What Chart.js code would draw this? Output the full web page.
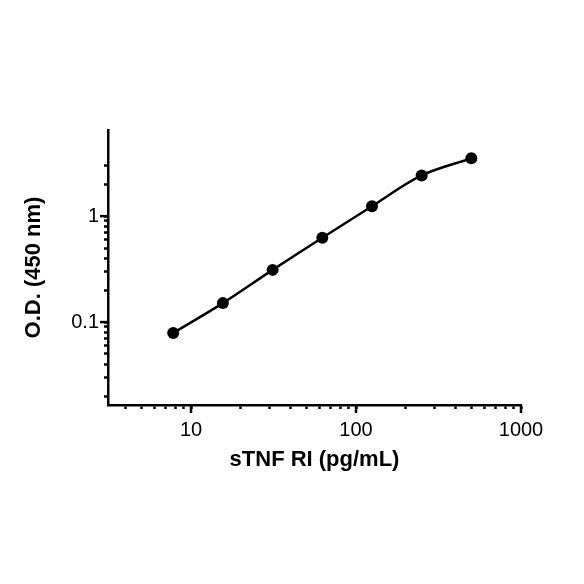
<!DOCTYPE html>
<html>
<head>
<meta charset="utf-8">
<script src="https://cdn.jsdelivr.net/npm/chart.js@4"></script>
<style>
  html, body { margin: 0; padding: 0; background: #fff; }
</style>
</head>
<body>
<canvas id="odChart" width="584" height="584"></canvas>
<script>
// standard curve
var concentration = [7.8, 15.6, 31.25, 62.5, 125, 250, 500];
var odValue = [0.079, 0.151, 0.311, 0.625, 1.24, 2.42, 3.51];

// axis ticks
var xLabelTicks = [10, 100, 1000];
var xMinorTicks = [4, 5, 6, 7, 8, 9, 20, 30, 40, 50, 60, 70, 80, 90, 200, 300, 400, 500, 600, 700, 800, 900];
var yLabelTicks = [0.1, 1];
var yMinorTicks = [0.02, 0.03, 0.04, 0.05, 0.06, 0.07, 0.08, 0.09, 0.2, 0.3, 0.4, 0.5, 0.6, 0.7, 0.8, 0.9, 2, 3];

var FONT = "'Liberation Sans', Arial, sans-serif";

function tickList(a, b) {
  return a.concat(b).sort(function (p, q) { return p - q; }).map(function (v) { return { value: v }; });
}

// longer marks for the labelled ticks
var majorTicks = {
  id: 'majorTicks',
  afterDraw: function (chart) {
    var c = chart.ctx, area = chart.chartArea;
    c.save();
    c.strokeStyle = '#000';
    c.lineWidth = 2.5;
    xLabelTicks.forEach(function (v) {
      var px = chart.scales.x.getPixelForValue(v);
      c.beginPath(); c.moveTo(px, area.bottom); c.lineTo(px, area.bottom + 8); c.stroke();
    });
    yLabelTicks.forEach(function (v) {
      var py = chart.scales.y.getPixelForValue(v);
      c.beginPath(); c.moveTo(area.left, py); c.lineTo(area.left - 8, py); c.stroke();
    });
    c.restore();
  }
};

var points = concentration.map(function (x, i) { return { x: x, y: odValue[i] }; });

new Chart(document.getElementById('odChart'), {
  type: 'scatter',
  data: {
    datasets: [{
      data: points,
      showLine: true,
      borderColor: '#000',
      backgroundColor: '#000',
      borderWidth: 2.5,
      pointRadius: 6,
      pointBorderWidth: 0,
      pointBackgroundColor: '#000',
      tension: 0.35
    }]
  },
  options: {
    responsive: false,
    animation: false,
    layout: { padding: { left: 0, top: 130, right: 63, bottom: 0 } },
    plugins: { legend: { display: false }, tooltip: { enabled: false } },
    scales: {
      x: {
        type: 'logarithmic',
        position: 'bottom',
        min: 3.14,
        max: 1000,
        afterBuildTicks: function (s) { s.ticks = tickList(xLabelTicks, xMinorTicks); },
        afterFit: function (s) { s.height = 179; },
        ticks: {
          autoSkip: false,
          maxRotation: 0,
          padding: 9,
          color: '#000',
          font: { family: FONT, size: 20 },
          callback: function (v) { return xLabelTicks.indexOf(v) >= 0 ? String(v) : ''; }
        },
        grid: { display: true, drawOnChartArea: false, tickLength: 4, tickWidth: 2.5, tickColor: '#000' },
        border: { display: true, color: '#000', width: 2.5 },
        title: {
          display: true,
          text: 'sTNF RI (pg/mL)',
          color: '#000',
          font: { family: FONT, size: 22, weight: 'bold' },
          padding: { top: 0, bottom: 111 }
        }
      },
      y: {
        type: 'logarithmic',
        position: 'left',
        min: 0.0165,
        max: 6.5,
        afterBuildTicks: function (s) { s.ticks = tickList(yLabelTicks, yMinorTicks); },
        afterFit: function (s) { s.width = 108; },
        ticks: {
          autoSkip: false,
          padding: 5,
          color: '#000',
          font: { family: FONT, size: 20 },
          callback: function (v) { return yLabelTicks.indexOf(v) >= 0 ? String(v) : ''; }
        },
        grid: { display: true, drawOnChartArea: false, tickLength: 4, tickWidth: 2.5, tickColor: '#000' },
        border: { display: true, color: '#000', width: 2.5 },
        title: {
          display: true,
          text: 'O.D. (450 nm)',
          color: '#000',
          font: { family: FONT, size: 22, weight: 'bold' },
          padding: { top: 21, bottom: 0 }
        }
      }
    }
  },
  plugins: [majorTicks]
});
</script>
</body>
</html>
